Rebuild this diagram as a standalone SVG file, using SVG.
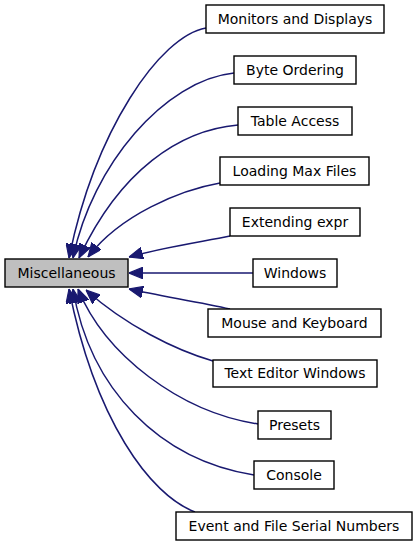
<svg xmlns="http://www.w3.org/2000/svg" width="419" height="544" viewBox="0 0 419 544">
<style>
.box{fill:#ffffff;stroke:#000000;stroke-width:1.4}
.root{fill:#bfbfbf;stroke:#000000;stroke-width:1.4}
.lbl{font-family:"DejaVu Sans",sans-serif;font-size:14px;fill:#000000;text-anchor:middle}
.edge{fill:none;stroke:#191970;stroke-width:1.5;marker-end:url(#ah)}
</style>
<defs>
<marker id="ah" markerUnits="userSpaceOnUse" markerWidth="14" markerHeight="12" refX="12" refY="5" orient="auto" viewBox="0 0 12 10">
<path d="M0,0 L12,5 L0,10 z" fill="#191970" stroke="#191970" stroke-width="1"/>
</marker>
</defs>
<rect x="0" y="0" width="419" height="544" fill="#ffffff"/>
<g id="connectors">
<path class="edge" d="M206,28 C160,36 95,130 69,258"/>
<path class="edge" d="M234,73 C165,80 92,165 73,258"/>
<path class="edge" d="M238,125 C180,130 120,170 79,258"/>
<path class="edge" d="M220,183 C180,190 120,215 88,257"/>
<path class="edge" d="M230,236 C200,242 160,248 129,257"/>
<path class="edge" d="M253,273 L129,273"/>
<path class="edge" d="M230,309 C200,302 160,296 129,289"/>
<path class="edge" d="M213,361 C175,350 125,325 86,290"/>
<path class="edge" d="M258,424 C180,412 105,355 78,289"/>
<path class="edge" d="M254,475 C160,460 90,390 73,289"/>
<path class="edge" d="M195,512 C150,495 95,420 69,289"/>
</g>
<g id="node-misc"><rect class="root" x="5" y="259" width="123" height="28"/><text class="lbl" x="66.5" y="277.5">Miscellaneous</text></g>
<g id="node-monitors"><rect class="box" x="206" y="5" width="178" height="28"/><text class="lbl" x="295" y="23.5">Monitors and Displays</text></g>
<g id="node-byte"><rect class="box" x="234" y="56" width="122" height="28"/><text class="lbl" x="295" y="74.5">Byte Ordering</text></g>
<g id="node-table"><rect class="box" x="238" y="107" width="114" height="28"/><text class="lbl" x="295" y="125.5">Table Access</text></g>
<g id="node-loading"><rect class="box" x="220" y="157" width="149" height="28"/><text class="lbl" x="294.5" y="175.5">Loading Max Files</text></g>
<g id="node-extending"><rect class="box" x="230" y="208" width="130" height="28"/><text class="lbl" x="295" y="226.5">Extending expr</text></g>
<g id="node-windows"><rect class="box" x="253" y="259" width="84" height="28"/><text class="lbl" x="295" y="277.5">Windows</text></g>
<g id="node-mouse"><rect class="box" x="208" y="309" width="173" height="28"/><text class="lbl" x="294.5" y="327.5">Mouse and Keyboard</text></g>
<g id="node-texteditor"><rect class="box" x="213" y="360" width="164" height="27"/><text class="lbl" x="295" y="378">Text Editor Windows</text></g>
<g id="node-presets"><rect class="box" x="258" y="411" width="73" height="28"/><text class="lbl" x="294.5" y="429.5">Presets</text></g>
<g id="node-console"><rect class="box" x="254" y="461" width="80" height="28"/><text class="lbl" x="294" y="479.5">Console</text></g>
<g id="node-event"><rect class="box" x="176" y="512" width="236" height="28"/><text class="lbl" x="294" y="530.5">Event and File Serial Numbers</text></g>
</svg>
